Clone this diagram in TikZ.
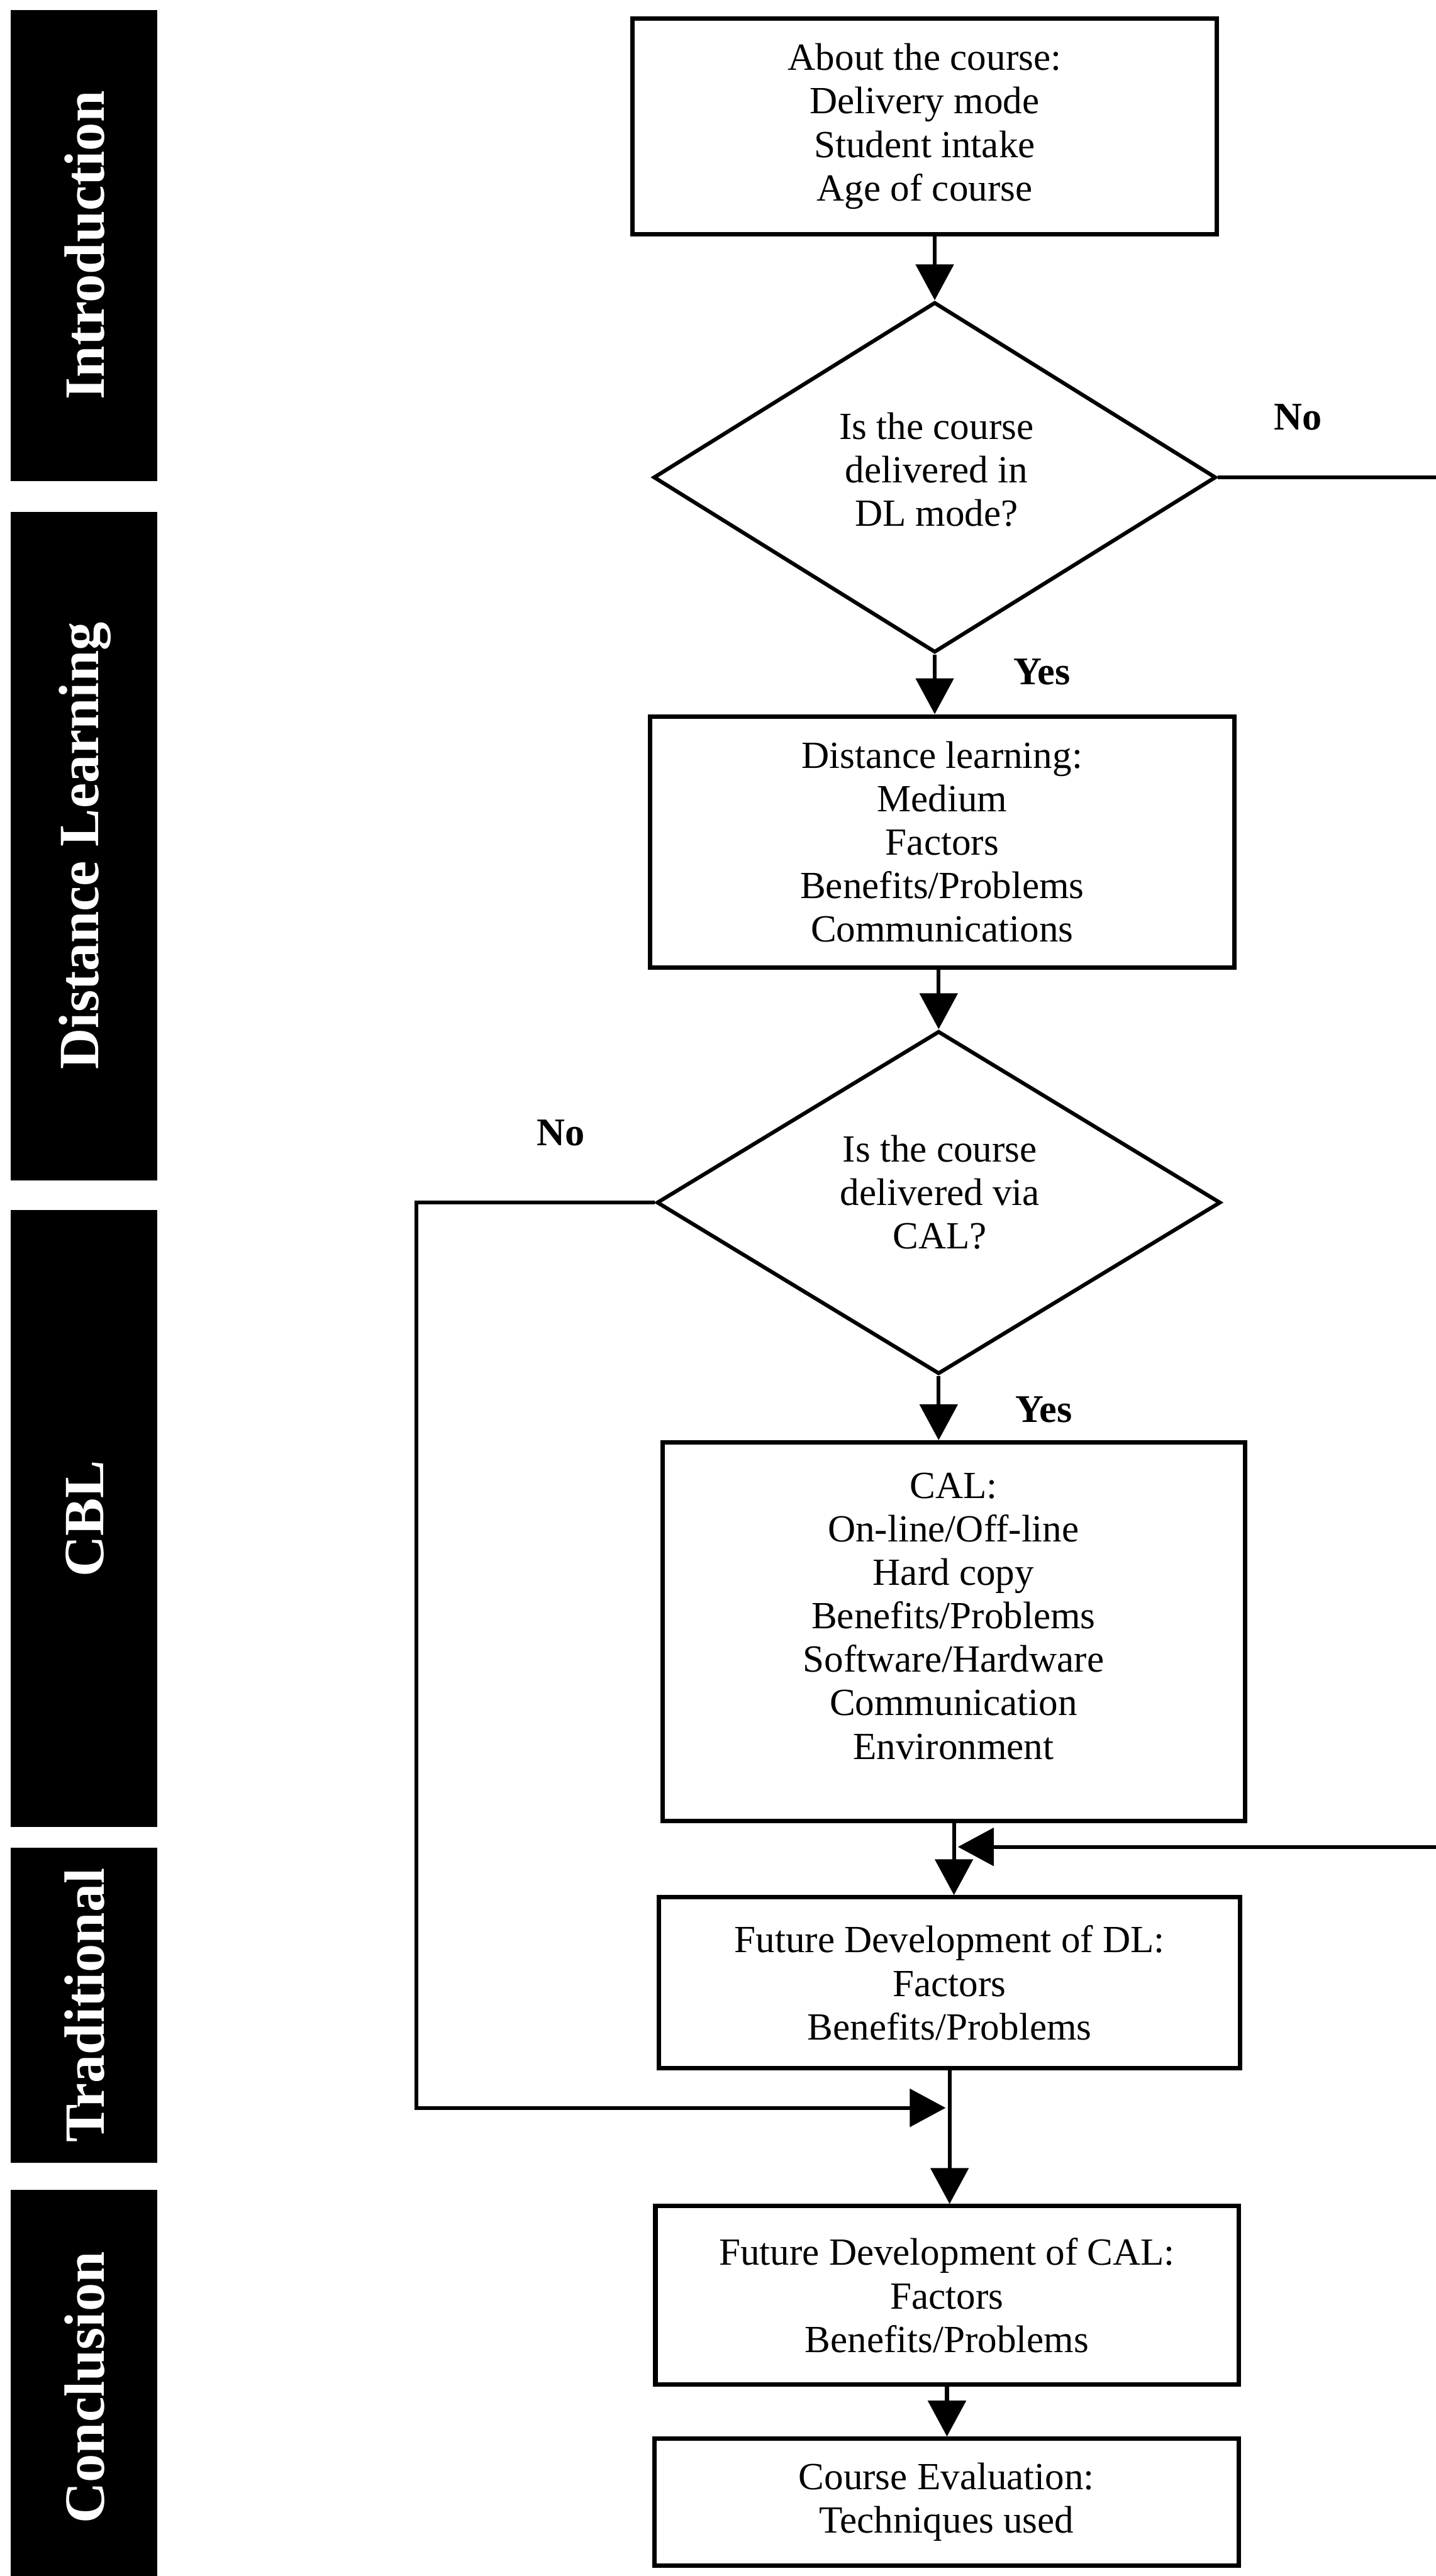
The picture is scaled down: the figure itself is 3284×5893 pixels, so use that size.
\documentclass[tikz,border=0pt]{standalone}
\usepackage{fontspec}
\setmainfont{Liberation Serif}
\usetikzlibrary{shapes.geometric,arrows.meta,calc}
\newcommand\myboxfont{\fontsize{25}{28.3}\selectfont}
\newcommand\mylblfont{\fontsize{25.5}{28}\selectfont\bfseries}
\newcommand\mybarfont{\fontsize{37}{40}\selectfont\bfseries}
\begin{document}
\begin{tikzpicture}[x=0.01cm, y=-0.01cm,
  bartext/.style={text=white, font=\mybarfont, rotate=90, inner sep=0},
  box/.style={draw, line width=2.9pt, inner sep=0, align=center, font=\myboxfont},
  dec/.style={diamond, draw, line width=2.5pt, inner sep=0},
  txt/.style={align=center, font=\myboxfont, inner sep=0},
  lbl/.style={font=\mylblfont, anchor=base, inner sep=0},
  arr/.style={line width=2.5pt, -{Triangle[length=0.82cm,width=0.86cm]}}
]
\useasboundingbox (0,0) rectangle (3284,5893);
% side bars
\fill[black] (24,23) rectangle (360,1100);
\fill[black] (24,1171) rectangle (360,2700);
\fill[black] (24,2768) rectangle (360,4180);
\fill[black] (24,4227) rectangle (360,4947);
\fill[black] (24,5010) rectangle (360,5893);
\node[bartext] (tintro) at (194,561) {Introduction};
\node[bartext] (tdl) at (194,1935) {Distance Learning};
\node[bartext] (tcbl) at (194,3474) {CBL};
\node[bartext] (ttrad) at (194,4587) {Traditional};
\node[bartext] (tconc) at (194,5462) {Conclusion};
% boxes and decisions
\node[box, minimum width=13.35cm, minimum height=4.93cm] (about) at (2115,289) {About the course:\\Delivery mode\\Student intake\\Age of course};
\node[dec, minimum width=12.86cm, minimum height=8.01cm] (d1) at (2138,1092) {};
\node[txt] (d1t) at (2142,1074) {Is the course\\delivered in\\DL mode?};
\node[box, minimum width=13.36cm, minimum height=5.74cm] (dl) at (2155,1926) {Distance learning:\\Medium\\Factors\\Benefits/Problems\\Communications};
\node[dec, minimum width=12.89cm, minimum height=7.84cm] (d2) at (2147,2751) {};
\node[txt] (d2t) at (2150,2727) {Is the course\\delivered via\\CAL?};
\node[box, minimum width=13.32cm, minimum height=8.66cm] (cal) at (2182,3733) {};
\node[txt] (calt) at (2181,3697) {CAL:\\On-line/Off-line\\Hard copy\\Benefits/Problems\\Software/Hardware\\Communication\\Environment};
\node[box, minimum width=13.28cm, minimum height=3.91cm] (dlf) at (2172,4536) {Future Development of DL:\\Factors\\Benefits/Problems};
\node[box, minimum width=13.33cm, minimum height=4.08cm] (calf) at (2166,5251) {Future Development of CAL:\\Factors\\Benefits/Problems};
\node[box, minimum width=13.36cm, minimum height=2.90cm] (eval) at (2165,5724) {Course Evaluation:\\Techniques used};
% labels
\node[lbl] (no1) at (2969,984) {No};
\node[lbl] (yes1) at (2383,1566) {Yes};
\node[lbl] (no2) at (1283,2621) {No};
\node[lbl] (yes2) at (2388,3253) {Yes};
% connectors
\draw[arr] (about.south -| d1.north) -- (d1.north);
\draw[arr] (d1.south) -- (d1.south |- dl.north);
\draw[arr] (dl.south -| d2.north) -- (d2.north);
\draw[arr] (d2.south) -- (d2.south |- cal.north);
\draw[arr] (cal.south) -- (cal.south |- dlf.north);
\coordinate (farR) at (3400,4225);
\coordinate (j1) at ($(cal.south |- farR)+(9,0)$);
\draw[arr] (d1.east) -| (farR) -- (j1);
\coordinate (farL) at (953,4822);
\coordinate (j2) at ($(dlf.south |- farL)+(-9,0)$);
\draw[arr] (d2.west) -| (farL) -- (j2);
\draw[arr] (dlf.south) -- (dlf.south |- calf.north);
\draw[arr] (calf.south) -- (calf.south |- eval.north);
\end{tikzpicture}
\end{document}
